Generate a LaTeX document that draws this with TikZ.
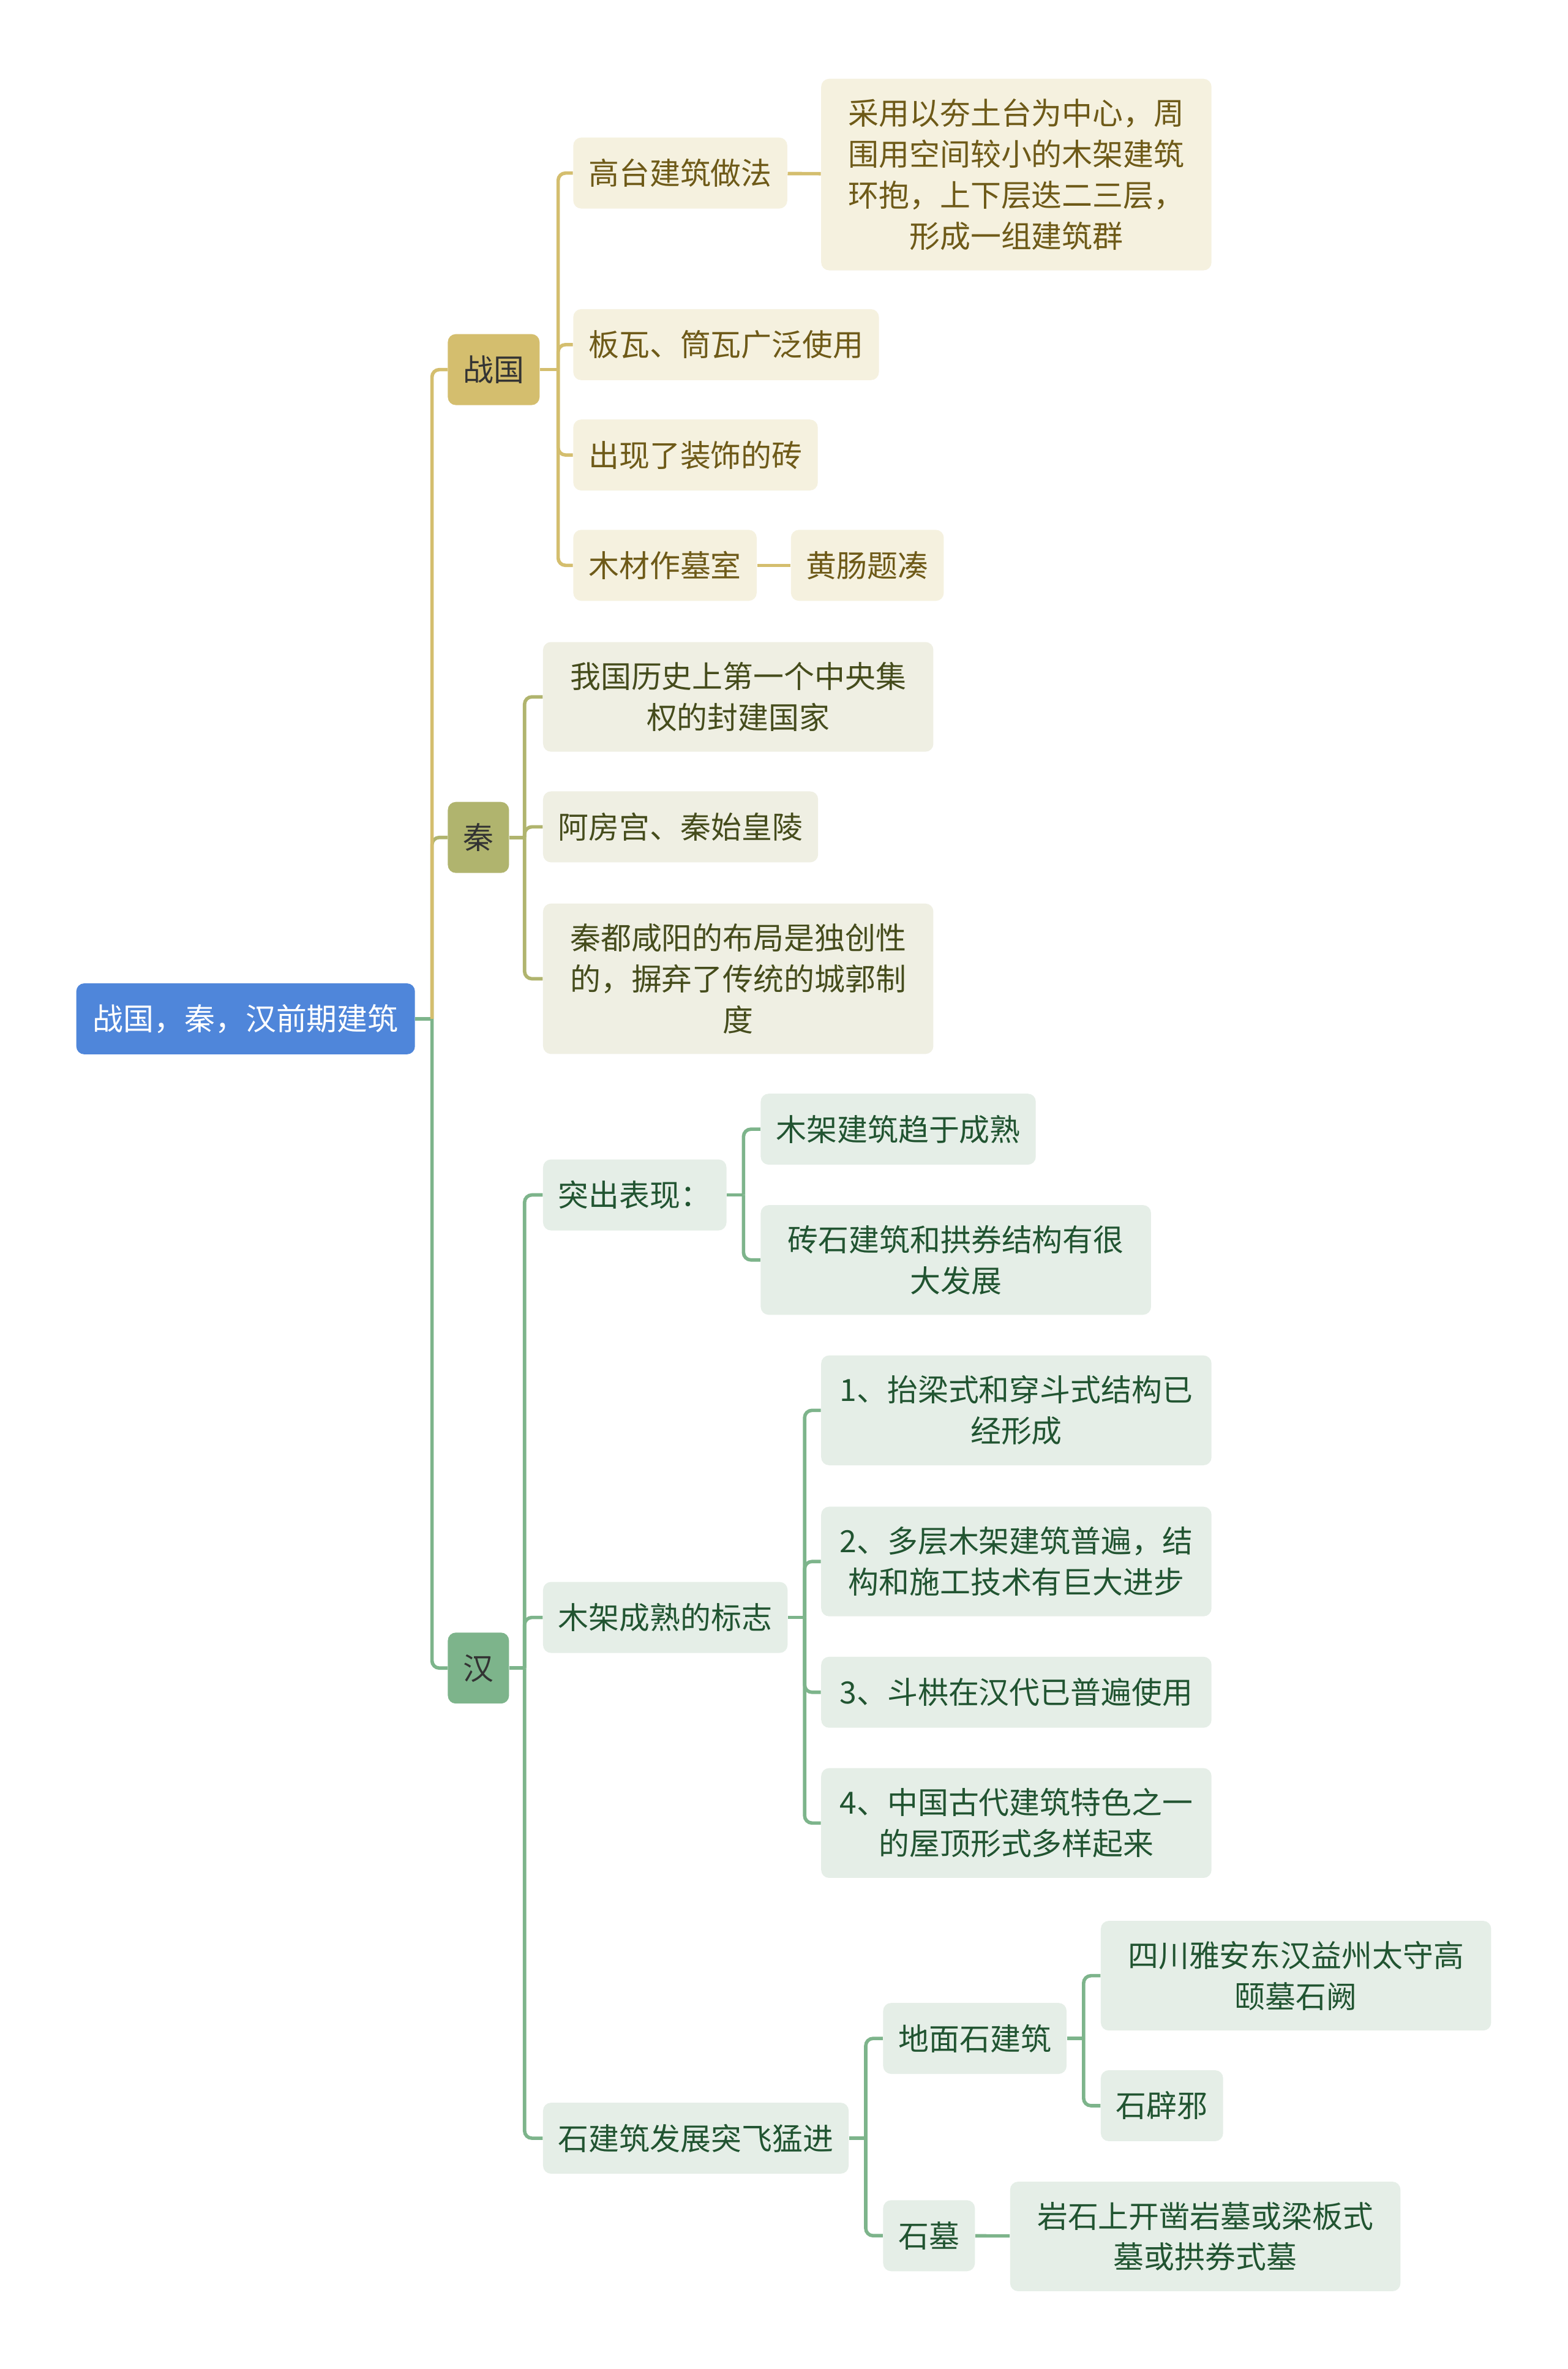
\documentclass[tikz,border=0pt]{standalone}
\usepackage{fontspec}
\newfontfamily\cjk{Noto Sans CJK SC}
\definecolor{rootblue}{HTML}{4F86DA}
\definecolor{zgfill}{HTML}{D4BE6E}
\definecolor{zgleaf}{HTML}{F5F1DF}
\definecolor{zgtext}{HTML}{6E5A18}
\definecolor{qinfill}{HTML}{B0B46E}
\definecolor{qinleaf}{HTML}{EFEFE3}
\definecolor{qintext}{HTML}{454C1C}
\definecolor{hanfill}{HTML}{7DB48B}
\definecolor{hanleaf}{HTML}{E5EEE7}
\definecolor{hantext}{HTML}{215431}

\begin{document}
\begin{tikzpicture}[x=0.024687cm, y=-0.024687cm]

\tikzstyle{every node} = [rectangle, rounded corners=0.13cm, inner xsep=0.25cm, inner ysep=0.33cm, text height=12.5pt, text depth=1.7pt, font=\cjk\fontsize{14.2pt}{19pt}\selectfont]
\tikzstyle{wide} = [text width=5.875cm, align=center, text height={}, text depth={}]
\tikzstyle{wideone} = [text width=5.875cm, align=center]
\tikzstyle{root} = [fill=rootblue, text=white, inner xsep=0.27cm]
\tikzstyle{zgmain} = [fill=zgfill, text=black!80]
\tikzstyle{zgleaf} = [fill=zgleaf, text=zgtext]
\tikzstyle{qinmain} = [fill=qinfill, text=black!80]
\tikzstyle{qinleaf} = [fill=qinleaf, text=qintext]
\tikzstyle{hanmain} = [fill=hanfill, text=black!80]
\tikzstyle{hanleaf} = [fill=hanleaf, text=hantext]
\tikzstyle{zgline} = [draw=zgfill, line width=1.6pt, rounded corners=0.12cm]
\tikzstyle{qinline} = [draw=qinfill, line width=1.6pt, rounded corners=0.12cm]
\tikzstyle{hanline} = [draw=hanfill, line width=1.6pt, rounded corners=0.12cm]

\fill[white] (0,0) rectangle (1037,1567.2);
\useasboundingbox (0,0) rectangle (1037,1567.2);

\node[root] (r) at (162.5,674) {战国，秦，汉前期建筑};

% 战国
\node[zgmain, anchor=west] (zg) at (296,244.5) {战国};
\node[zgleaf, anchor=west] (gt) at (379,114.5) {高台建筑做法};
\node[zgleaf, wide, anchor=west] (gtx) at (543,115.5) {采用以夯土台为中心，周\\围用空间较小的木架建筑\\环抱，上下层迭二三层，\\形成一组建筑群};
\node[zgleaf, anchor=west] (bw) at (379,228) {板瓦、筒瓦广泛使用};
\node[zgleaf, anchor=west] (zs) at (379,301) {出现了装饰的砖};
\node[zgleaf, anchor=west] (mc) at (379,374) {木材作墓室};
\node[zgleaf, anchor=west] (hc) at (523,374) {黄肠题凑};

% 秦
\node[qinmain, anchor=west] (qin) at (296,554) {秦};
\node[qinleaf, wide, anchor=west] (zy) at (359,461) {我国历史上第一个中央集\\权的封建国家};
\node[qinleaf, anchor=west] (af) at (359,547) {阿房宫、秦始皇陵};
\node[qinleaf, wide, anchor=west] (xy) at (359,647.5) {秦都咸阳的布局是独创性\\的，摒弃了传统的城郭制\\度};

% 汉
\node[hanmain, anchor=west] (han) at (296,1103.5) {汉};
\node[hanleaf, anchor=west] (tc) at (359,790.5) {突出表现：};
\node[hanleaf, anchor=west] (mj) at (503,747) {木架建筑趋于成熟};
\node[hanleaf, wide, anchor=west] (zsj) at (503,833.5) {砖石建筑和拱券结构有很\\大发展};
\node[hanleaf, anchor=west] (bz) at (359,1070) {木架成熟的标志};
\node[hanleaf, wide, anchor=west] (b1) at (543,933) {1、抬梁式和穿斗式结构已\\经形成};
\node[hanleaf, wide, anchor=west] (b2) at (543,1033) {2、多层木架建筑普遍，结\\构和施工技术有巨大进步};
\node[hanleaf, wideone, anchor=west] (b3) at (543,1119.5) {3、斗栱在汉代已普遍使用};
\node[hanleaf, wide, anchor=west] (b4) at (543,1206) {4、中国古代建筑特色之一\\的屋顶形式多样起来};
\node[hanleaf, anchor=west] (sj) at (359,1414.5) {石建筑发展突飞猛进};
\node[hanleaf, anchor=west] (dm) at (584,1348.5) {地面石建筑};
\node[hanleaf, wide, anchor=west] (gy) at (728,1307) {四川雅安东汉益州太守高\\颐墓石阙};
\node[hanleaf, anchor=west] (bx) at (728,1393) {石辟邪};
\node[hanleaf, anchor=west] (sm) at (584,1479) {石墓};
\node[hanleaf, wide, anchor=west] (ys) at (668,1479.5) {岩石上开凿岩墓或梁板式\\墓或拱券式墓};

% root branches
\draw[hanline] (r.east) -- ++(11,0) coordinate (rt);
\draw[hanline] (rt) |- (han.west);
\draw[qinline] (rt) |- (qin.west);
\draw[zgline] (rt) |- (zg.west);

\draw[zgline] (zg.east) -- ++(12,0) coordinate (zgt);
\foreach \c in {gt,bw,zs,mc}
  \draw[zgline] (zgt) |- (\c.west);
\draw[zgline] (gt) -- (gtx);
\draw[zgline] (mc) -- (hc);

\draw[qinline] (qin.east) -- ++(10,0) coordinate (qint);
\foreach \c in {zy,af,xy}
  \draw[qinline] (qint) |- (\c.west);

\draw[hanline] (han.east) -- ++(10,0) coordinate (hant);
\foreach \c in {tc,bz,sj}
  \draw[hanline] (hant) |- (\c.west);

\draw[hanline] (tc.east) -- ++(11,0) coordinate (tct);
\foreach \c in {mj,zsj}
  \draw[hanline] (tct) |- (\c.west);

\draw[hanline] (bz.east) -- ++(11,0) coordinate (bzt);
\foreach \c in {b1,b2,b3,b4}
  \draw[hanline] (bzt) |- (\c.west);

\draw[hanline] (sj.east) -- ++(11,0) coordinate (sjt);
\foreach \c in {dm,sm}
  \draw[hanline] (sjt) |- (\c.west);

\draw[hanline] (dm.east) -- ++(11,0) coordinate (dmt);
\foreach \c in {gy,bx}
  \draw[hanline] (dmt) |- (\c.west);
\draw[hanline] (sm) -- (ys);

\end{tikzpicture}
\end{document}
